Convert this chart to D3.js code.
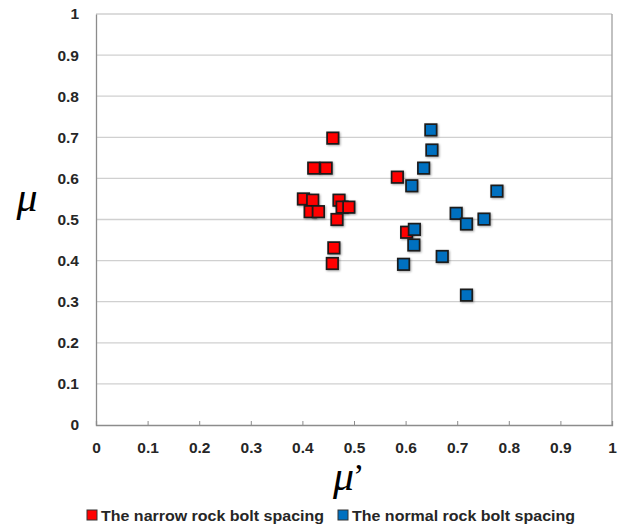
<!DOCTYPE html>
<html><head><meta charset="utf-8">
<script src="https://cdn.jsdelivr.net/npm/d3@7"></script>
<style>body{margin:0;background:#fff}svg{display:block}</style>
</head><body>
<svg id="c" width="624" height="526"></svg>
<script>
const ticks = [0,0.1,0.2,0.3,0.4,0.5,0.6,0.7,0.8,0.9,1];
const seriesNames = ["The narrow rock bolt spacing","The normal rock bolt spacing"];
const seriesColors = ["#ff0000","#0070c0"];
const narrowX = [0.459,0.422,0.446,0.584,0.402,0.420,0.415,0.431,0.471,0.477,0.490,0.467,0.461,0.458,0.602];
const narrowY = [0.698,0.625,0.625,0.603,0.550,0.547,0.519,0.519,0.547,0.530,0.530,0.500,0.431,0.393,0.469];
const normalX = [0.649,0.651,0.635,0.612,0.777,0.698,0.718,0.752,0.617,0.616,0.671,0.596,0.718];
const normalY = [0.718,0.669,0.625,0.582,0.569,0.515,0.489,0.501,0.476,0.438,0.410,0.391,0.316];

const svg = d3.select("#c");
const x = d3.scaleLinear().domain([0,1]).range([96,612]);
const y = d3.scaleLinear().domain([0,1]).range([425,14]);
const font = "'Liberation Sans', Arial, sans-serif";
const serif = "'Liberation Serif','DejaVu Serif',serif";

// gridlines
svg.append("g").selectAll("line").data(ticks.slice(1)).join("line")
  .attr("x1",x(0)).attr("x2",x(1)).attr("y1",d=>y(d)).attr("y2",d=>y(d))
  .attr("stroke","#d0d0d0").attr("stroke-width",1.3);

// right border
svg.append("line").attr("x1",x(1)).attr("x2",x(1)).attr("y1",y(0)).attr("y2",y(1))
  .attr("stroke","#a0a0a0").attr("stroke-width",1.3);

// x axis
const xa = svg.append("g").attr("transform",`translate(0,${y(0)})`)
  .call(d3.axisBottom(x).tickValues(ticks).tickSize(-4).tickPadding(17).tickFormat(d=>d3.format("")(d)));
xa.select(".domain").attr("stroke","#8c8c8c").attr("stroke-width",1.3);
xa.selectAll(".tick line").attr("stroke","#8c8c8c");
xa.selectAll("text").attr("font-family",font).attr("font-weight","bold").attr("font-size",15.5).attr("fill","#262626");

// y axis
const ya = svg.append("g").attr("transform",`translate(${x(0)},0)`)
  .call(d3.axisLeft(y).tickValues(ticks).tickSize(0).tickPadding(17).tickFormat(d=>d3.format("")(d)));
ya.select(".domain").attr("stroke","#8c8c8c").attr("stroke-width",1.3);
ya.selectAll("text").attr("font-family",font).attr("font-weight","bold").attr("font-size",15.5).attr("fill","#262626");

// points
const defs = svg.append("defs");
defs.append("filter").attr("id","sh").attr("x","-50%").attr("y","-50%").attr("width","200%").attr("height","200%")
  .html('<feDropShadow dx="1" dy="1" stdDeviation="1" flood-color="#000" flood-opacity="0.35"/>');
const s = 11.5;
function drawSeries(xs, ys, color){
  svg.append("g").selectAll("rect").data(xs.map((v,i)=>[v,ys[i]])).join("rect")
    .attr("x",d=>x(d[0])-s/2).attr("y",d=>y(d[1])-s/2).attr("width",s).attr("height",s)
    .attr("fill",color).attr("stroke","#1a1a1a").attr("stroke-width",1.7).attr("filter","url(#sh)");
}
drawSeries(narrowX, narrowY, seriesColors[0]);
drawSeries(normalX, normalY, seriesColors[1]);

// axis titles
svg.append("text").attr("x",27).attr("y",211).attr("text-anchor","middle")
  .attr("font-family",serif).attr("font-style","italic").attr("font-size",42).text("μ");
const xt = svg.append("text").attr("x",333).attr("y",490)
  .attr("font-family",serif).attr("font-style","italic").attr("font-size",42);
xt.append("tspan").text("μ");
xt.append("tspan").attr("dx",-1).attr("dy",-3).attr("font-style","normal").attr("font-size",34).text("’");

// legend
const leg = [{x:87,t:seriesNames[0],c:seriesColors[0]},{x:338,t:seriesNames[1],c:seriesColors[1]}];
const lg = svg.append("g").selectAll("g").data(leg).join("g").attr("transform",d=>`translate(${d.x},510)`);
lg.append("rect").attr("x",0).attr("y",0).attr("width",10).attr("height",10).attr("fill",d=>d.c).attr("stroke","#333").attr("stroke-width",1);
lg.append("text").attr("x",14).attr("y",10.5).attr("font-family",font).attr("font-weight","bold").attr("font-size",14.5)
  .attr("fill","#262626").attr("textLength",223).attr("lengthAdjust","spacingAndGlyphs").text(d=>d.t);
</script>
</body></html>
